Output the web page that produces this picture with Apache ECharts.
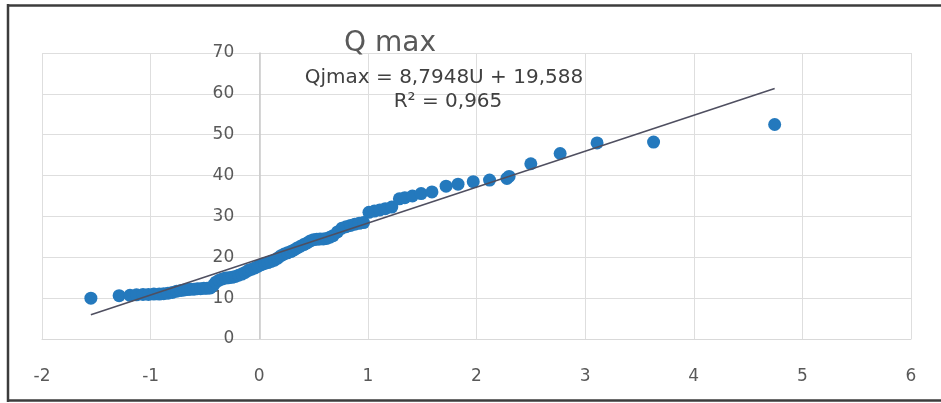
<!DOCTYPE html>
<html>
<head>
<meta charset="utf-8">
<script src="https://cdn.jsdelivr.net/npm/echarts@6/dist/echarts.min.js"></script>
<style>
html,body{margin:0;padding:0;background:#fff;}
#chart{width:941px;height:403px;}
</style>
</head>
<body>
<div id="chart"></div>
<script>
// Reduced variate U (x) and observed Qjmax (y)
var U = [-1.55, -1.29, -1.19, -1.13, -1.07, -1.02, -0.97, -0.92, -0.88, -0.84, -0.80, -0.76, -0.72, -0.69, -0.66, -0.63, -0.60, -0.57, -0.54, -0.51, -0.48, -0.45, -0.42, -0.40, -0.37, -0.34, -0.31, -0.28, -0.25, -0.22, -0.19, -0.16, -0.13, -0.10, -0.07, -0.04, -0.01, 0.02, 0.05, 0.08, 0.11, 0.14, 0.17, 0.20, 0.23, 0.26, 0.29, 0.32, 0.35, 0.38, 0.41, 0.44, 0.47, 0.50, 0.53, 0.56, 0.59, 0.62, 0.65, 0.68, 0.72, 0.76, 0.80, 0.84, 0.88, 0.92, 0.96, 1.01, 1.06, 1.11, 1.16, 1.22, 1.29, 1.34, 1.41, 1.49, 1.59, 1.72, 1.83, 1.97, 2.12, 2.28, 2.30, 2.50, 2.77, 3.11, 3.63, 4.745];
var Q = [10.0, 10.6, 10.7, 10.8, 10.9, 10.9, 11.0, 11.0, 11.1, 11.2, 11.4, 11.7, 11.9, 12.0, 12.1, 12.2, 12.2, 12.3, 12.3, 12.4, 12.4, 12.5, 13.2, 13.9, 14.4, 14.7, 14.9, 15.0, 15.1, 15.3, 15.6, 15.9, 16.3, 16.8, 17.1, 17.4, 17.8, 18.2, 18.5, 18.7, 19.0, 19.3, 19.8, 20.4, 20.8, 21.1, 21.4, 21.8, 22.3, 22.7, 23.1, 23.5, 24.0, 24.3, 24.4, 24.5, 24.5, 24.6, 24.9, 25.3, 26.2, 27.1, 27.5, 27.8, 28.1, 28.3, 28.5, 31.0, 31.3, 31.6, 31.9, 32.3, 34.3, 34.6, 35.0, 35.6, 36.0, 37.4, 37.9, 38.5, 38.9, 39.3, 39.8, 42.9, 45.4, 48.0, 48.2, 52.5];

// Linear trendline (from the chart's equation)
var SLOPE = 8.7948;
var INTERCEPT = 19.588;
var TREND_X = [-1.55, 4.745];

var TITLE = 'Q max';
var EQUATION = 'Qjmax = 8,7948U + 19,588';
var R2 = 'R² = 0,965';

var X_MIN = -2, X_MAX = 6, X_STEP = 1;
var Y_MIN = 0, Y_MAX = 70, Y_STEP = 10;

var points = U.map(function (u, i) { return [u, Q[i]]; });
var trend = TREND_X.map(function (x) { return [x, SLOPE * x + INTERCEPT]; });

var GRID_LEFT = 42, GRID_WIDTH = 869;
// y axis crosses the x axis at x = 0
var yAxisOffset = -GRID_WIDTH * (0 - X_MIN) / (X_MAX - X_MIN);

var FONT = '"DejaVu Sans", sans-serif';
var chart = echarts.init(document.getElementById('chart'), null, {renderer: 'canvas'});
chart.setOption({
  animation: false,
  backgroundColor: '#ffffff',
  grid: {left: GRID_LEFT, width: GRID_WIDTH, top: 53, height: 286, containLabel: false, outerBoundsMode: 'none'},
  xAxis: {
    type: 'value', min: X_MIN, max: X_MAX, interval: X_STEP,
    axisLine: {show: true, onZero: false, lineStyle: {color: '#d9d9d9', width: 1}},
    axisTick: {show: false},
    axisLabel: {color: '#595959', fontFamily: FONT, fontSize: 17, margin: 29},
    splitLine: {show: true, lineStyle: {color: '#dedede', width: 1}}
  },
  yAxis: {
    type: 'value', min: Y_MIN, max: Y_MAX, interval: Y_STEP,
    position: 'left', offset: yAxisOffset,
    axisLine: {show: true, onZero: false, lineStyle: {color: '#c8c8c8', width: 1.5}},
    axisTick: {show: false},
    axisLabel: {color: '#595959', fontFamily: FONT, fontSize: 17, margin: 25},
    splitLine: {show: true, lineStyle: {color: '#dedede', width: 1}}
  },
  series: [
    {
      type: 'line', data: trend, symbol: 'none', z: 3,
      lineStyle: {color: '#4f4f60', width: 1.6}
    },
    {
      type: 'scatter', data: points, symbol: 'circle', symbolSize: 13, z: 2,
      itemStyle: {color: '#2479bd', opacity: 1}
    }
  ],
  graphic: [
    {type: 'text', x: 390, y: 44, z: 10,
      style: {text: TITLE, fill: '#595959', font: '28px ' + FONT, textAlign: 'center', textVerticalAlign: 'middle'}},
    {type: 'text', x: 444, y: 78, z: 10,
      style: {text: EQUATION, fill: '#404040', font: '20px ' + FONT, textAlign: 'center', textVerticalAlign: 'middle'}},
    {type: 'text', x: 448, y: 102, z: 10,
      style: {text: R2, fill: '#404040', font: '20px ' + FONT, textAlign: 'center', textVerticalAlign: 'middle'}},
    {type: 'line', z: 20, shape: {x1: 8, y1: 4, x2: 8, y2: 402}, style: {stroke: '#3c3c3c', lineWidth: 2.5}},
    {type: 'line', z: 20, shape: {x1: 7, y1: 5.5, x2: 941, y2: 5.5}, style: {stroke: '#3c3c3c', lineWidth: 2.5}},
    {type: 'line', z: 20, shape: {x1: 7, y1: 400.5, x2: 941, y2: 400.5}, style: {stroke: '#3c3c3c', lineWidth: 2.5}}
  ]
});
</script>
</body>
</html>
